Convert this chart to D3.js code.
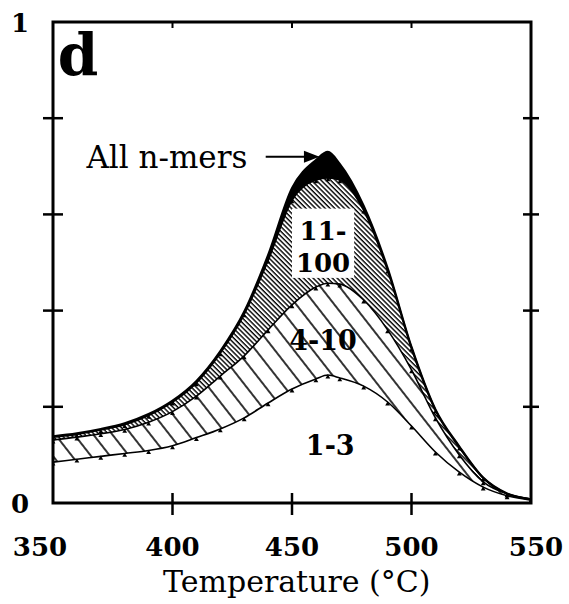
<!DOCTYPE html>
<html>
<head>
<meta charset="utf-8">
<script src="https://cdn.jsdelivr.net/npm/d3@7"></script>
<style>
  body { margin: 0; background: #fff; }
  text { font-family: "DejaVu Serif", serif; fill: #000; }
</style>
</head>
<body>
<svg width="569" height="604"></svg>
<script>
// temperatures (°C) and fraction of each n-mer class
const temps = [350, 360, 370, 380, 390, 400, 410, 420, 430, 440, 450, 460, 465, 470, 480, 490, 500, 510, 520, 530, 540, 550];
const frac1to3 = [0.085, 0.091, 0.097, 0.103, 0.109, 0.119, 0.136, 0.154, 0.177, 0.208, 0.237, 0.258, 0.266, 0.260, 0.243, 0.210, 0.160, 0.106, 0.064, 0.033, 0.015, 0.006];
const frac4to10 = [0.046, 0.046, 0.047, 0.050, 0.059, 0.071, 0.086, 0.110, 0.129, 0.152, 0.175, 0.191, 0.191, 0.195, 0.179, 0.150, 0.117, 0.071, 0.036, 0.011, 0.004, 0.002];
const frac11to100 = [0.006, 0.006, 0.008, 0.010, 0.014, 0.020, 0.028, 0.048, 0.087, 0.145, 0.218, 0.223, 0.219, 0.217, 0.187, 0.124, 0.045, 0.016, 0.016, 0.008, 0.000, 0.000];
const fracOver100 = [0.002, 0.002, 0.002, 0.003, 0.003, 0.003, 0.004, 0.004, 0.005, 0.011, 0.025, 0.041, 0.054, 0.033, 0.009, 0.005, 0.003, 0.002, 0.002, 0.001, 0.001, 0.000];

const xTicks = [350, 400, 450, 500, 550];
const yTicks = [0.2, 0.4, 0.6, 0.8];
const yLabels = [0, 1];

const svg = d3.select('svg');
const x = d3.scaleLinear().domain([350, 550]).range([53, 531]);
const y = d3.scaleLinear().domain([0, 1]).range([503, 22]);

const rows = temps.map((t, i) => ({
    temp: t, a: frac1to3[i], b: frac4to10[i], c: frac11to100[i], d: fracOver100[i]
}));
const layers = d3.stack().keys(['a', 'b', 'c', 'd'])(rows);

// hatch patterns
const defs = svg.append('defs');
defs.append('pattern')
    .attr('id', 'wide')
    .attr('patternUnits', 'userSpaceOnUse')
    .attr('width', 15).attr('height', 15)
    .attr('patternTransform', 'rotate(-38)')
    .append('line')
    .attr('x1', 1).attr('y1', 0).attr('x2', 1).attr('y2', 15)
    .attr('stroke', '#000').attr('stroke-width', 1.6);
defs.append('pattern')
    .attr('id', 'fine')
    .attr('patternUnits', 'userSpaceOnUse')
    .attr('width', 3.4).attr('height', 3.4)
    .attr('patternTransform', 'rotate(-45)')
    .append('line')
    .attr('x1', 1).attr('y1', 0).attr('x2', 1).attr('y2', 3.4)
    .attr('stroke', '#000').attr('stroke-width', 1.4);
defs.append('clipPath').attr('id', 'plot')
    .append('rect')
    .attr('x', x(350)).attr('y', y(1))
    .attr('width', x(550) - x(350)).attr('height', y(0) - y(1));

const fills = ['#fff', 'url(#wide)', 'url(#fine)', '#000'];
const widths = [1.6, 1.6, 2, 2];

const area = d3.area()
    .x(d => x(d.data.temp))
    .y0(d => y(d[0]))
    .y1(d => y(d[1]))
    .curve(d3.curveMonotoneX);
const edge = d3.line()
    .x(d => x(d.data.temp))
    .y(d => y(d[1]))
    .curve(d3.curveMonotoneX);

const plot = svg.append('g').attr('clip-path', 'url(#plot)');
plot.selectAll('path.band')
    .data(layers)
    .join('path')
    .attr('class', 'band')
    .attr('d', area)
    .attr('fill', (d, i) => fills[i]);
plot.selectAll('path.edge')
    .data(layers)
    .join('path')
    .attr('class', 'edge')
    .attr('d', edge)
    .attr('fill', 'none')
    .attr('stroke', '#000')
    .attr('stroke-width', (d, i) => widths[i]);

// little triangle markers on the lower curves
const tri = d3.symbol().type(d3.symbolTriangle).size(10);
layers.slice(0, 3).forEach(layer => {
    plot.selectAll(null)
        .data(layer)
        .join('path')
        .attr('d', tri)
        .attr('transform', d => `translate(${x(d.data.temp)},${y(d[1]) + 2})`)
        .attr('fill', '#000');
});

// frame
svg.append('rect')
    .attr('x', x(350)).attr('y', y(1))
    .attr('width', x(550) - x(350)).attr('height', y(0) - y(1))
    .attr('fill', 'none').attr('stroke', '#000').attr('stroke-width', 3);

// y ticks, crossing both side axes
svg.selectAll('line.yl').data(yTicks).join('line')
    .attr('x1', x(350) - 10).attr('x2', x(350) + 10)
    .attr('y1', d => y(d)).attr('y2', d => y(d))
    .attr('stroke', '#000').attr('stroke-width', 2.5);
svg.selectAll('line.yr').data(yTicks).join('line')
    .attr('x1', x(550) - 8).attr('x2', x(550) + 8)
    .attr('y1', d => y(d)).attr('y2', d => y(d))
    .attr('stroke', '#000').attr('stroke-width', 2.5);

// x ticks
const inner = xTicks.slice(1, -1);
svg.selectAll('line.xb').data(inner).join('line')
    .attr('x1', d => x(d)).attr('x2', d => x(d))
    .attr('y1', y(0) - 10).attr('y2', y(0) + 12)
    .attr('stroke', '#000').attr('stroke-width', 2.5);
svg.selectAll('line.xt').data(inner).join('line')
    .attr('x1', d => x(d)).attr('x2', d => x(d))
    .attr('y1', y(1)).attr('y2', y(1) + 6)
    .attr('stroke', '#000').attr('stroke-width', 2);

// tick labels
svg.selectAll('text.xt').data(xTicks).join('text')
    .attr('x', d => x(d) + (d === 350 ? -13 : d === 550 ? 5 : 0))
    .attr('y', 556)
    .attr('text-anchor', 'middle')
    .attr('font-size', 26)
    .attr('font-weight', 'bold')
    .text(d => d);
svg.selectAll('text.yt').data(yLabels).join('text')
    .attr('x', 20)
    .attr('y', d => y(d) + 10)
    .attr('text-anchor', 'middle')
    .attr('font-size', 26)
    .attr('font-weight', 'bold')
    .text(d => d);

svg.append('text')
    .attr('x', x(452)).attr('y', 592)
    .attr('text-anchor', 'middle')
    .attr('font-size', 30)
    .text('Temperature (°C)');

// panel letter and band labels
svg.append('text')
    .attr('x', x(352)).attr('y', y(0.89))
    .attr('font-size', 58).attr('font-weight', 'bold')
    .text('d');

svg.append('text')
    .attr('x', x(364)).attr('y', y(0.696))
    .attr('font-size', 31)
    .text('All n-mers');
svg.append('line')
    .attr('x1', x(439)).attr('x2', x(456))
    .attr('y1', y(0.72)).attr('y2', y(0.72))
    .attr('stroke', '#000').attr('stroke-width', 2);
svg.append('path')
    .attr('d', d3.line()([[x(455), y(0.72) - 6], [x(461.5), y(0.72)], [x(455), y(0.72) + 6]]) + 'Z')
    .attr('fill', '#000');

svg.append('rect')
    .attr('x', x(450)).attr('y', y(0.612))
    .attr('width', x(476) - x(450)).attr('height', y(0.468) - y(0.612))
    .attr('fill', '#fff');
svg.append('text')
    .attr('x', x(463)).attr('y', y(0.546))
    .attr('text-anchor', 'middle')
    .attr('font-size', 26).attr('font-weight', 'bold')
    .text('11-');
svg.append('text')
    .attr('x', x(463)).attr('y', y(0.48))
    .attr('text-anchor', 'middle')
    .attr('font-size', 26).attr('font-weight', 'bold')
    .text('100');
svg.append('text')
    .attr('x', x(463)).attr('y', y(0.318))
    .attr('text-anchor', 'middle')
    .attr('font-size', 27).attr('font-weight', 'bold')
    .text('4-10');
svg.append('text')
    .attr('x', x(466)).attr('y', y(0.1))
    .attr('text-anchor', 'middle')
    .attr('font-size', 27).attr('font-weight', 'bold')
    .text('1-3');
</script>
</body>
</html>
